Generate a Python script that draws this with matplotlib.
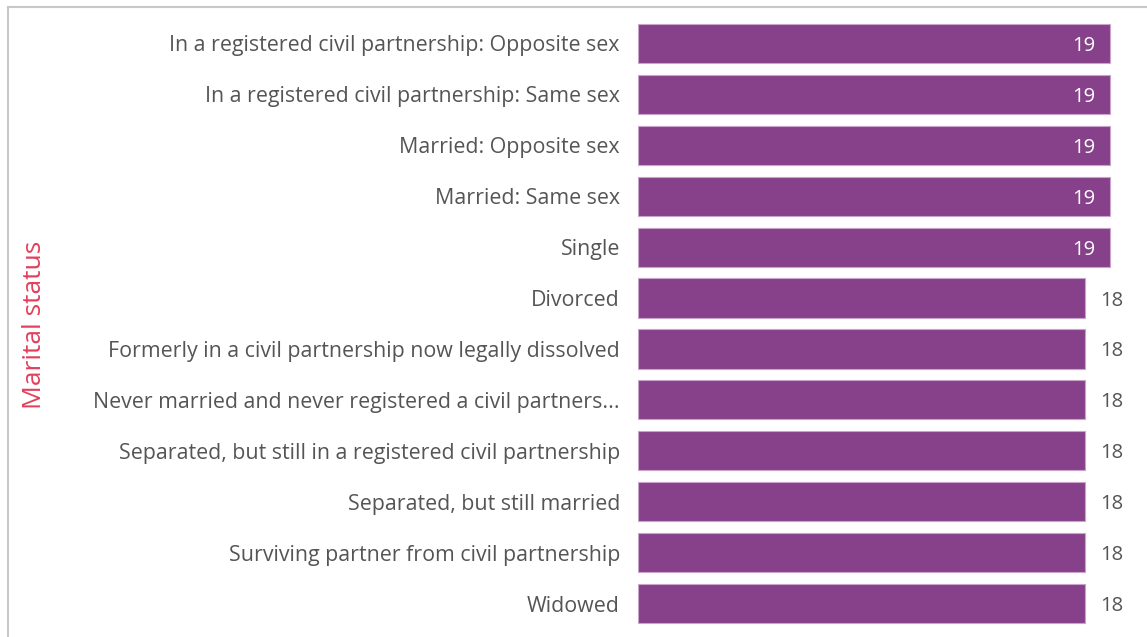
#!/usr/bin/env python3
# -*- coding: utf-8 -*-

import matplotlib.pyplot as plt
from matplotlib.lines import Line2D

categories = [
    "In a registered civil partnership: Opposite sex",
    "In a registered civil partnership: Same sex",
    "Married: Opposite sex",
    "Married: Same sex",
    "Single",
    "Divorced",
    "Formerly in a civil partnership now legally dissolved",
    "Never married and never registered a civil partners...",
    "Separated, but still in a registered civil partnership",
    "Separated, but still married",
    "Surviving partner from civil partnership",
    "Widowed",
]
values = [19, 19, 19, 19, 19, 18, 18, 18, 18, 18, 18, 18]

bar_color = "#86418a"
text_color = "#555555"

plt.rcParams['font.family'] = ['Open Sans', 'DejaVu Sans']

fig = plt.figure(figsize=(11.47, 6.37), dpi=100)
W, H = 1147, 637
ax = fig.add_axes([638 / W, 1 - 629 / H, (1135 - 638) / W, (629 - 18) / H])

ypos = list(range(len(categories)))
ax.barh(ypos, values, height=0.77, color=bar_color,
        edgecolor="#c9a3cc", linewidth=0.8)
ax.set_xlim(0, 20)
ax.set_ylim(len(categories) - 0.5, -0.5)

ax.set_yticks(ypos)
ax.set_yticklabels(categories, fontsize=15.4, color=text_color)
ax.tick_params(axis='y', length=0, pad=13)
ax.set_xticks([])
for s in ax.spines.values():
    s.set_visible(False)

vmax = max(values)
for y, v in zip(ypos, values):
    if v == vmax:
        ax.text(v - 0.6, y, str(v), ha='right', va='center_baseline',
                color='white', fontsize=14.5)
    else:
        ax.text(v + 0.6, y, str(v), ha='left', va='center_baseline',
                color=text_color, fontsize=14.5)

fig.text(35 / W, 1 - 325 / H, "Marital status", rotation=90,
         ha='center', va='center', color="#e2405c", fontsize=19)

# outer frame (top and left edges only)
fig.add_artist(Line2D([8 / W, 1], [1 - 7 / H, 1 - 7 / H],
                      transform=fig.transFigure, color="#c8c8c8", lw=1.5))
fig.add_artist(Line2D([8 / W, 8 / W], [1 - 7 / H, 0],
                      transform=fig.transFigure, color="#c8c8c8", lw=1.5))

fig.savefig("out.png", dpi=100)
